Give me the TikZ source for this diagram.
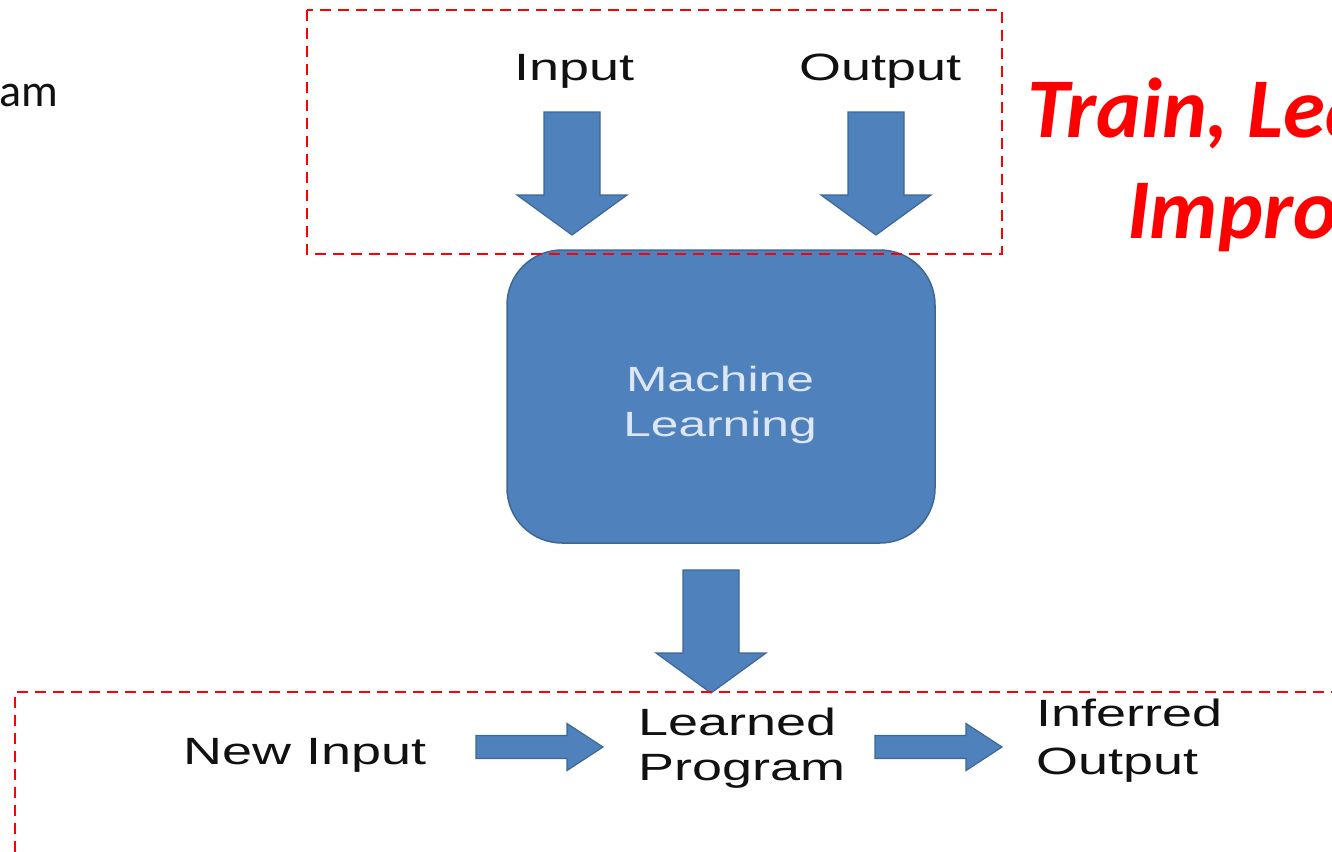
\documentclass[tikz,border=0pt]{standalone}
\usepackage{fontspec}
\setmainfont{Liberation Sans}
\newfontfamily\widefont[FakeStretch=1.42]{Liberation Sans}
\newfontfamily\calib{Carlito}
\definecolor{mlfill}{HTML}{4F81BD}
\definecolor{mledge}{HTML}{3C6896}
\definecolor{mltext}{HTML}{DCE6F4}
\definecolor{lbltext}{HTML}{111111}
\begin{document}
\begin{tikzpicture}[x=1pt,y=-1pt,
  blockarrow/.style={fill=mlfill,draw=mledge,line width=1.2pt,line join=miter},
  reddash/.style={draw=red,line width=2.5pt,dash pattern=on 11pt off 7pt},
  lbl/.style={font=\widefont\fontsize{38}{45}\selectfont,text=lbltext,inner sep=0pt},
  mlbox/.style={rectangle,rounded corners=55pt,fill=mlfill,draw=mledge,line width=1.5pt,
    minimum width=428pt,minimum height=293pt,inner sep=0pt},
  mllbl/.style={font=\widefont\fontsize{35}{45}\selectfont,text=mltext,inner sep=0pt,align=center},
  redtxt/.style={font=\calib\bfseries\itshape\fontsize{85}{102}\selectfont,text=red,inner sep=0pt},
  sidetxt/.style={font=\calib\fontsize{46}{55}\selectfont,text=lbltext,inner sep=0pt},
  downarrow/.pic={\path[blockarrow] (-28,-123) -- (28,-123) -- (28,-40) -- (55,-40) -- (0,0)
      -- (-55,-40) -- (-28,-40) -- cycle;},
  rightarrow/.pic={\path[blockarrow] (-127,-11.5) -- (-36,-11.5) -- (-36,-23.5) -- (0,0)
      -- (-36,23.5) -- (-36,11.5) -- (-127,11.5) -- cycle;}
]
\useasboundingbox (0,0) rectangle (1332,851);
\clip (0,0) rectangle (1332,851);
\fill[white] (0,0) rectangle (1332,851);

% side texts (partly cut by the frame)
\node[sidetxt,anchor=base east] (am) at (58,106) {am};
\node[redtxt,anchor=base west] (train) at (1027,137) {Train, Lea};
\node[redtxt,anchor=base west] (impr) at (1127,238) {Impro};

% top labels
\node[lbl,anchor=base] (in) at (574,80) {Input};
\node[lbl,anchor=base] (out) at (880,80) {Output};

% machine learning box
\node[mlbox] (ml) at (721,396.5) {};
\node[mllbl] (mlt) at (720,405) {Machine\\Learning};

% down arrows
\coordinate (intip) at (572,235);
\coordinate (outtip) at (876,235);
\coordinate (mltip) at (711,693);
\pic at (intip) {downarrow};
\pic at (outtip) {downarrow};
\pic at (mltip) {downarrow};

% bottom row
\node[lbl,anchor=base west] (newin) at (183,764) {New Input};
\node[lbl,anchor=west,align=left] (prog) at (638,748.5) {Learned\\Program};
\node[lbl,anchor=west,align=left,font=\widefont\fontsize{38}{48}\selectfont] (inf) at (1036,741) {Inferred\\Output};
\coordinate (r1tip) at (603,747);
\coordinate (r2tip) at (1002,747);
\pic at (r1tip) {rightarrow};
\pic at (r2tip) {rightarrow};

% dashed frames
\draw[reddash] (307,10) rectangle (1002,254);
\draw[reddash] (15,870) -- (15,692) -- (1345,692);
\end{tikzpicture}
\end{document}
